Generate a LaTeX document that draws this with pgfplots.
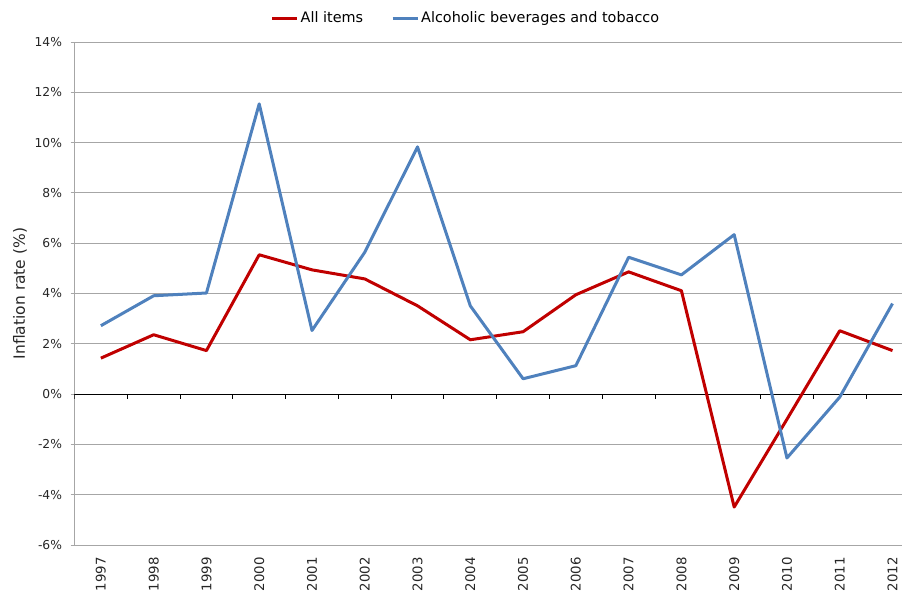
\documentclass[border=0pt]{standalone}
\usepackage{fontspec}
\setmainfont{DejaVu Sans}
\usepackage{pgfplots}
\pgfplotsset{compat=1.18}
\definecolor{allitems}{HTML}{C00000}
\definecolor{alcohol}{HTML}{4F81BD}
\definecolor{gridgrey}{HTML}{A6A6A6}

\begin{document}
\begin{tikzpicture}
\begin{axis}[
  name=ax,
  scale only axis,
  width=827.5pt, height=503pt,
  xmin=-0.5, xmax=15.18,
  ymin=-6, ymax=14,
  ytick={-6,-4,...,14},
  yticklabel={\pgfmathprintnumber{\tick}\%},
  /pgf/number format/assume math mode=true,
  yticklabel style={font=\fontsize{12.3}{14}\selectfont, color=black!85, xshift=-5pt},
  ymajorgrids,
  grid style={gridgrey, line width=0.8pt},
  axis x line*=bottom,
  axis y line*=left,
  x axis line style={gridgrey, line width=0.8pt},
  y axis line style={gridgrey, line width=0.8pt},
  tick align=outside,
  ytick style={gridgrey, line width=0.8pt},
  major tick length=4pt,
  xtick={0,...,15},
  xticklabels={1997,1998,1999,2000,2001,2002,2003,2004,2005,2006,2007,2008,2009,2010,2011,2012},
  xtick style={draw=none},
  xticklabel style={rotate=90, anchor=east, inner xsep=8pt, font=\fontsize{13.3}{14}\selectfont, color=black!85},
  ylabel={Inflation rate (\%)},
  ylabel style={at={(axis description cs:-0.0659,0.5)}, anchor=center, font=\fontsize{15.5}{17}\selectfont, color=black!85},
  legend style={at={(0.473,1.0477)}, anchor=center, draw=none, fill=none,
    legend columns=2, font=\fontsize{14.4}{16}\selectfont,
    /tikz/every even column/.append style={column sep=26pt}},
  legend image code/.code={\draw[#1] (0pt,0pt) -- (25pt,0pt);},
  line join=round,
]
\draw[black, line width=0.9pt] (axis cs:-0.5,0) -- (axis cs:15.18,0);
\pgfplotsinvokeforeach{-0.5,0.5,1.5,2.5,3.5,4.5,5.5,6.5,7.5,8.5,9.5,10.5,11.5,12.5,13.5,14.5}{
  \draw[black, line width=0.9pt] (axis cs:#1,0) -- ++(0pt,-5pt);
}

% All items
\addplot[allitems, line width=3pt] coordinates {
  (0,1.43) (1,2.36) (2,1.73) (3,5.54) (4,4.94) (5,4.58) (6,3.51) (7,2.16)
  (8,2.48) (9,3.95) (10,4.86) (11,4.11) (12,-4.49) (13,-1.0) (14,2.52) (15,1.73)
};
\addlegendentry{All items}

% Alcoholic beverages and tobacco
\addplot[alcohol, line width=3pt] coordinates {
  (0,2.72) (1,3.91) (2,4.02) (3,11.54) (4,2.53) (5,5.64) (6,9.83) (7,3.51)
  (8,0.61) (9,1.13) (10,5.44) (11,4.74) (12,6.34) (13,-2.54) (14,-0.12) (15,3.6)
};
\addlegendentry{Alcoholic beverages and tobacco}
\end{axis}
\pgfresetboundingbox
\path ([xshift=-74.5pt,yshift=-47pt]ax.south west) rectangle ([yshift=42pt]ax.north east);
\end{tikzpicture}
\end{document}
